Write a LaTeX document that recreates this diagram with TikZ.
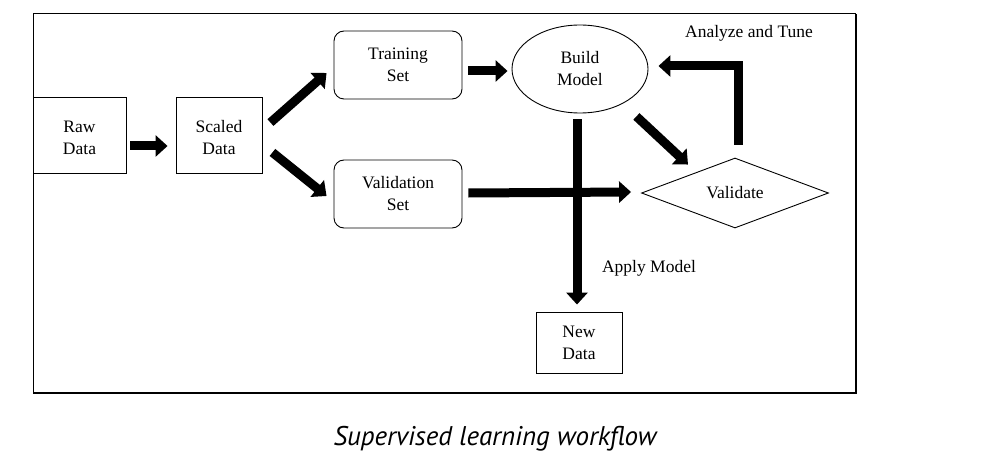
\documentclass[tikz,border=0pt]{standalone}
\usepackage{fontspec}
\setmainfont{Liberation Serif}
\newfontfamily\capfont{PT Sans}
\usetikzlibrary{arrows.meta,shapes.geometric,calc}
\begin{document}
\begin{tikzpicture}[x=1pt,y=-1pt,
  every node/.style={font=\fontsize{17.5}{22}\selectfont, align=center, inner sep=0pt},
  sqbox/.style={draw, line width=0.9pt, rectangle},
  rndbox/.style={draw, line width=0.9pt, rectangle, rounded corners=10pt, minimum width=128pt, minimum height=68pt},
  fat/.style={line width=9pt, -{Triangle[length=12pt,width=21pt]}},
  lbl/.style={}
]
\useasboundingbox (0,0) rectangle (984,473);
% frame
\coordinate (ftl) at (33,14);
\coordinate (fbr) at (856,393);
\draw[line width=1pt] (ftl |- fbr) -- (ftl) -- (fbr |- ftl);
\draw[line width=2pt] (fbr |- ftl) -- (fbr) -- (ftl |- fbr);

\node[sqbox, minimum width=93pt, minimum height=76pt] (raw) at (79.5,135) {\\[-4pt]Raw\\Data};
\node[sqbox, minimum width=86pt, minimum height=76pt] (scaled) at (219,135) {\\[-4pt]Scaled\\Data};
\node[rndbox] (train) at (398,65) {Training\\Set};
\node[rndbox] (valid) at (398,194) {Validation\\Set};
\node[draw, line width=0.9pt, ellipse, minimum width=136pt, minimum height=88pt] (build) at (580,69) {Build\\Model};
\node[draw, line width=0.9pt, diamond, aspect=3, minimum width=187pt, minimum height=70pt] (validate) at (735,193) {Validate};
\node[sqbox, minimum width=86pt, minimum height=61pt] (newdata) at (579,342.5) {New\\Data};

\node[lbl] (tune) at (749,33) {Analyze and Tune};
\node[lbl] (apply) at (649,268) {Apply Model};

\draw[fat] ($(raw.east)+(4,11)$) -- ($(scaled.west)+(-8,11)$);
\draw[fat] ($(scaled.north east)+(8,26)$) -- ($(train.west)+(-7,8)$);
\draw[fat] ($(scaled.south east)+(10,-21)$) -- ($(valid.west)+(-7,2)$);
\draw[fat] ($(train.east |- build.west)+(6,2)$) -- ($(build.west)+(-4,2)$);
\draw[fat] ($(valid.east)+(6,-1)$) -- ($(validate.west)+(-10,-1)$);
\draw[fat] ($(build.south)+(-3,6)$) -- ($(newdata.north)+(-2,-7)$);
\draw[fat] ($(build.south east)+(8,16)$) -- ($(validate.north)+(-47,7)$);
\draw[fat, line join=miter] ($(validate.north)+(3,-13)$) |- ($(build.east)+(10,-3)$);

\node[font=\capfont\itshape\fontsize{27}{32}\selectfont] (cap) at (495,439) {Supervised learning workflow};
\end{tikzpicture}
\end{document}
